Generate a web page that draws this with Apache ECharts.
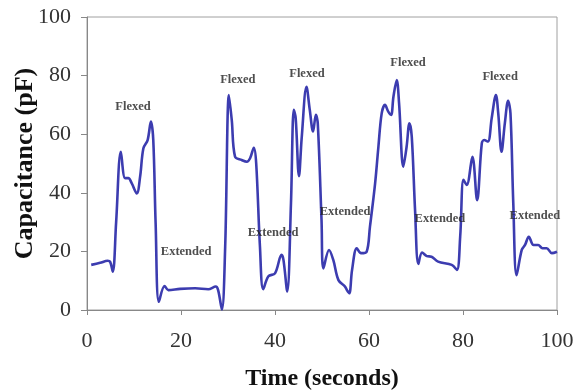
<!DOCTYPE html>
<html>
<head>
<meta charset="utf-8">
<script src="https://cdn.jsdelivr.net/npm/echarts@6/dist/echarts.min.js"></script>
<style>
  html, body { margin: 0; padding: 0; background: #fff; }
  #chart { width: 581px; height: 392px; }
</style>
</head>
<body>
<div id="chart"></div>
<script>
// Capacitance trace recorded while the joint is flexed and extended
var timeSec = [0.9, 2.8, 4.4, 4.9, 5.5, 6.2, 7.2, 8.1, 8.8, 9.5, 10.6, 11.3, 12.0, 12.9, 13.6, 14.1, 14.6, 15.3, 16.5, 17.3,
  19.8, 23.0, 25.8, 27.4, 27.9, 28.7, 29.4, 30.2, 30.8, 31.5, 32.9, 34.0, 34.7, 35.5, 36.0, 36.8, 37.5, 38.6, 40.0, 41.4,
  41.8, 42.6, 43.4, 44.0, 44.4, 45.1, 45.7, 46.7, 47.4, 48.1, 48.7, 49.1, 49.9, 50.3, 51.5, 52.4, 53.5, 54.9, 55.3, 55.8,
  56.4, 57.4, 58.3, 59.5, 60.2, 61.3, 62.0, 62.7, 63.4, 64.1, 64.7, 65.2, 65.9, 66.4, 67.3, 68.0, 68.6, 69.1, 69.8, 70.5,
  71.3, 72.3, 73.3, 74.7, 77.6, 78.7, 79.4, 80.1, 80.8, 82.0, 83.0, 84.0, 84.5, 85.3, 86.1, 87.0, 87.5, 88.2, 88.9, 89.6,
  90.1, 90.7, 91.4, 92.5, 93.2, 94.0, 95.0, 96.0, 96.9, 97.8, 98.9, 100];
var capacitancePF = [15.4, 16.1, 16.8, 16.5, 13.1, 30.0, 54.0, 45.0, 45.0, 43.3, 39.8, 45.5, 55.2, 58.0, 64.3, 58.0, 29.7, 2.8, 8.2, 6.8,
  7.2, 7.4, 7.1, 8.0, 6.8, 0.2, 21.6, 73.4, 64.8, 52.3, 51.2, 50.6, 51.8, 55.4, 50.0, 21.6, 7.1, 11.5, 12.5, 18.8,
  17.1, 6.3, 36.5, 68.3, 65.5, 45.7, 59.2, 76.2, 68.3, 60.9, 66.6, 63.7, 30.7, 14.2, 20.5, 17.1, 10.2, 8.0, 6.8, 5.7,
  13.7, 21.1, 19.4, 19.9, 28.4, 43.2, 55.7, 67.1, 70.0, 67.7, 66.6, 72.8, 78.5, 70.5, 48.9, 55.7, 63.7, 59.1, 34.1, 15.7,
  19.6, 18.4, 18.2, 16.5, 15.4, 13.7, 25.0, 44.4, 42.7, 52.3, 37.5, 56.9, 58.0, 57.5, 65.4, 73.4, 67.1, 54.0, 63.7, 71.4,
  67.1, 36.4, 11.9, 20.5, 22.2, 25.0, 22.2, 22.2, 21.1, 21.1, 19.4, 19.9];

// State annotations (time, capacitance, text)
var stateNames = ['Flexed', 'Extended', 'Flexed', 'Extended', 'Flexed', 'Extended', 'Flexed', 'Extended', 'Flexed', 'Extended'];
var stateTime = [9.8, 21.1, 32.1, 39.6, 46.8, 54.9, 68.3, 75.1, 87.9, 95.3];
var stateCap = [69.3, 19.8, 78.5, 26.3, 80.5, 33.4, 84.3, 31.1, 79.5, 32.1];

var xTicks = [0, 20, 40, 60, 80, 100];
var yTicks = [0, 20, 40, 60, 80, 100];

var traceData = timeSec.map(function (t, i) { return [t, capacitancePF[i]]; });
var labelData = stateNames.map(function (n, i) { return [stateTime[i], stateCap[i], n]; });

var serif = '"Liberation Serif", "DejaVu Serif", serif';
var chart = echarts.init(document.getElementById('chart'), null, { renderer: 'canvas' });
chart.setOption({
  animation: false,
  backgroundColor: '#ffffff',
  grid: {
    left: 87, top: 17, right: 24, bottom: 82, show: true, borderColor: '#a0a0a0', borderWidth: 1,
    containLabel: false, outerBoundsMode: 'none'
  },
  xAxis: {
    type: 'value', min: xTicks[0], max: xTicks[xTicks.length - 1], interval: 20,
    name: 'Time (seconds)', nameLocation: 'middle', nameGap: 57, nameMoveOverlap: false,
    nameTextStyle: { fontFamily: serif, fontWeight: 'bold', fontSize: 24, color: '#111' },
    axisLine: { lineStyle: { color: '#888', width: 1 } },
    axisTick: { show: true, length: 5, lineStyle: { color: '#888' } },
    axisLabel: { fontFamily: serif, fontSize: 22, color: '#333', margin: 20 },
    splitLine: { show: false }
  },
  yAxis: {
    type: 'value', min: yTicks[0], max: yTicks[yTicks.length - 1], interval: 20,
    name: 'Capacitance (pF)', nameLocation: 'middle', nameGap: 49, nameMoveOverlap: false,
    nameTextStyle: { fontFamily: serif, fontWeight: 'bold', fontSize: 26, color: '#111' },
    axisLine: { show: true, lineStyle: { color: '#888', width: 1 } },
    axisTick: { show: true, length: 6, lineStyle: { color: '#888' } },
    axisLabel: { fontFamily: serif, fontSize: 22, color: '#333', margin: 16 },
    splitLine: { show: false }
  },
  series: [
    {
      type: 'line', data: traceData, smooth: 0.35, showSymbol: false,
      lineStyle: { color: '#3c3cb0', width: 2.6 }, z: 2
    },
    {
      type: 'scatter', data: labelData, symbolSize: 0, silent: true, z: 3,
      label: {
        show: true, position: 'inside',
        formatter: function (p) { return p.data[2]; },
        fontFamily: serif, fontWeight: 'bold', fontSize: 12.5, color: '#222'
      }
    }
  ]
});
</script>
</body>
</html>
